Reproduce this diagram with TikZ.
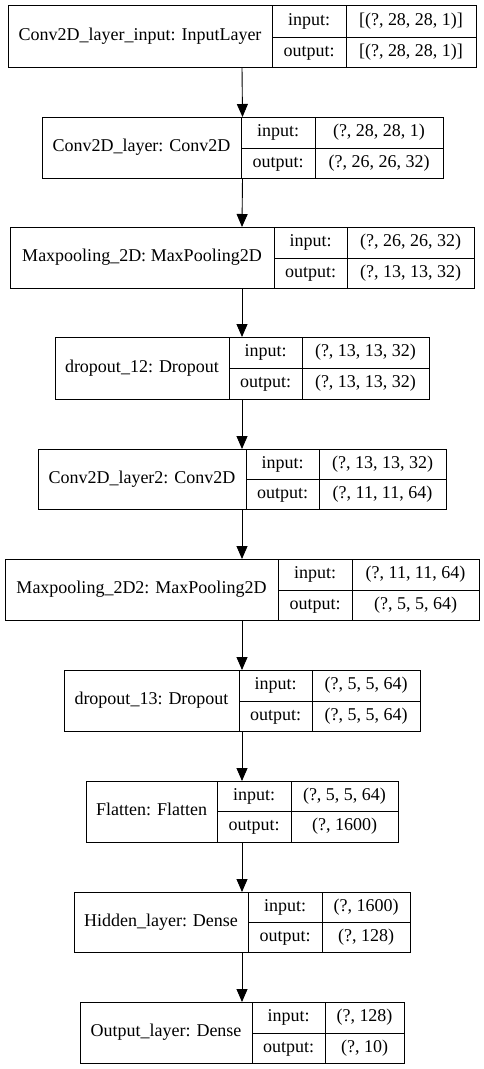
\documentclass[tikz,border=0pt]{standalone}
\usepackage{fontspec}
\setmainfont{Liberation Serif}
\usetikzlibrary{arrows.meta,fit}
\tikzset{
  cell/.style={draw=black, line width=0.9pt, rectangle, inner sep=0pt, outer sep=0pt,
    font=\fontsize{18}{20}\selectfont, text height=12.4pt, text depth=3.6pt, align=center},
  whole/.style={inner sep=0pt, outer sep=0pt, draw=none},
  arr/.style={line width=0.9pt, -{Triangle[length=13pt,width=11pt]}}
}
% set \shpin and \shpout first; \layer{id}{x0}{x1}{x2}{x3}{ytop}{ymid}{ybot}{label}
\newcommand{\layer}[9]{%
  \pgfmathsetmacro{\lwA}{#3-#2}\pgfmathsetmacro{\lwB}{#4-#3}\pgfmathsetmacro{\lwC}{#5-#4}%
  \pgfmathsetmacro{\lhA}{#8-#6}\pgfmathsetmacro{\lhB}{#7-#6}\pgfmathsetmacro{\lhC}{#8-#7}%
  \node[cell, minimum width=\lwA pt, minimum height=\lhA pt, anchor=north west] (#1a) at (#2,#6) {#9};
  \node[cell, minimum width=\lwB pt, minimum height=\lhB pt, anchor=north west] (#1b) at (#3,#6) {input:};
  \node[cell, minimum width=\lwB pt, minimum height=\lhC pt, anchor=north west] (#1c) at (#3,#7) {output:};
  \node[cell, minimum width=\lwC pt, minimum height=\lhB pt, anchor=north west] (#1d) at (#4,#6) {\shpin};
  \node[cell, minimum width=\lwC pt, minimum height=\lhC pt, anchor=north west] (#1e) at (#4,#7) {\shpout};
  \node[whole, fit=(#1a)(#1d)(#1e)] (#1) {};}
\begin{document}
\begin{tikzpicture}[x=1pt,y=-1pt]
\useasboundingbox (0,0) rectangle (484,1069);
\def\shpin{[(?, 28, 28, 1)]}\def\shpout{[(?, 28, 28, 1)]}
\layer{L1}{8}{272}{346}{476}{5}{37}{67}{Conv2D\_layer\_input: InputLayer}
\def\shpin{(?, 28, 28, 1)}\def\shpout{(?, 26, 26, 32)}
\layer{L2}{42}{241}{315}{443}{117}{148}{178}{Conv2D\_layer: Conv2D}
\def\shpin{(?, 26, 26, 32)}\def\shpout{(?, 13, 13, 32)}
\layer{L3}{10}{274}{347}{474}{227}{258}{288}{Maxpooling\_2D: MaxPooling2D}
\def\shpin{(?, 13, 13, 32)}\def\shpout{(?, 13, 13, 32)}
\layer{L4}{55}{229}{302}{429}{337}{368}{399}{dropout\_12: Dropout}
\def\shpin{(?, 13, 13, 32)}\def\shpout{(?, 11, 11, 64)}
\layer{L5}{38}{246}{319}{446}{449}{479}{509}{Conv2D\_layer2: Conv2D}
\def\shpin{(?, 11, 11, 64)}\def\shpout{(?, 5, 5, 64)}
\layer{L6}{5}{278}{352}{479}{559}{590}{620}{Maxpooling\_2D2: MaxPooling2D}
\def\shpin{(?, 5, 5, 64)}\def\shpout{(?, 5, 5, 64)}
\layer{L7}{64}{239}{312}{420}{670}{701}{731}{dropout\_13: Dropout}
\def\shpin{(?, 5, 5, 64)}\def\shpout{(?, 1600)}
\layer{L8}{86}{217}{291}{398}{781}{811}{842}{Flatten: Flatten}
\def\shpin{(?, 1600)}\def\shpout{(?, 128)}
\layer{L9}{74}{248}{322}{410}{892}{922}{952}{Hidden\_layer: Dense}
\def\shpin{(?, 128)}\def\shpout{(?, 10)}
\layer{L10}{80}{252}{325}{404}{1002}{1033}{1063}{Output\_layer: Dense}
\foreach \a/\b in {L1/L2,L2/L3,L3/L4,L4/L5,L5/L6,L6/L7,L7/L8,L8/L9,L9/L10}
  \draw[arr] (\a.south) -- (\b.north);
\end{tikzpicture}
\end{document}
